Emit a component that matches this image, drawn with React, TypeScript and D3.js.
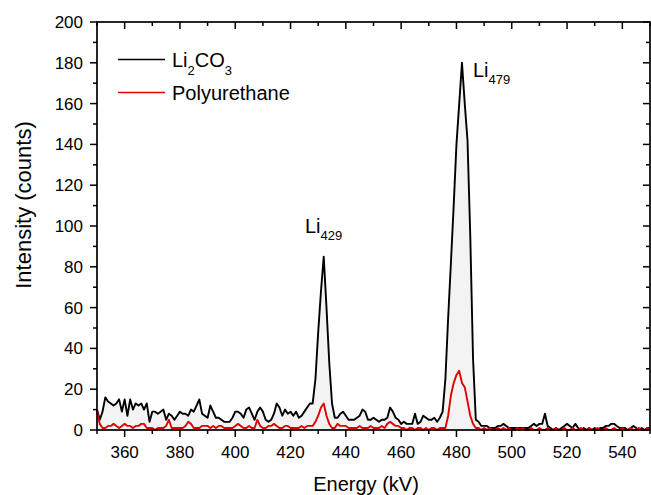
import { useEffect, useRef } from 'react';
import * as d3 from 'd3';

// energy grid (kV), one sample per kV
const energies = d3.range(350, 551, 1);

// Li2CO3 counts, 350..550 kV
const li2co3 = [
  10, 5, 9, 16, 14, 13, 12, 13, 15, 9,
  15, 7, 15, 10, 13, 12, 13, 10, 13, 4,
  9, 9, 8, 9, 10, 5, 8, 7, 5, 7,
  9, 8, 8, 7, 10, 9, 12, 15, 8, 7,
  6, 12, 9, 6, 6, 5, 4, 4, 4, 6,
  9, 9, 8, 6, 10, 11, 8, 5, 9, 11,
  9, 5, 4, 5, 8, 13, 11, 7, 10, 8,
  9, 7, 9, 6, 7, 9, 11, 13, 13, 25,
  48, 68, 85, 60, 33, 13, 6, 6, 8, 9,
  7, 5, 5, 5, 6, 7, 10, 9, 5, 5,
  6, 5, 4, 5, 5, 6, 11, 9, 6, 5,
  3, 4, 3, 3, 3, 8, 3, 4, 7, 6,
  5, 5, 6, 4, 6, 9, 25, 55, 82, 110,
  140, 160, 180, 160, 142, 95, 35, 5, 4, 2,
  2, 2, 1, 1, 1, 2, 2, 3, 2, 1,
  1, 1, 1, 1, 1, 1, 1, 2, 3, 2,
  3, 3, 8, 2, 1, 0, 1, 0, 1, 2,
  3, 2, 1, 3, 1, 0, 1, 0, 1, 0,
  1, 0, 1, 1, 2, 2, 3, 3, 2, 1,
  1, 1, 0, 1, 2, 1, 0, 1, 0, 1,
  1,
];

// Polyurethane counts, 350..550 kV
const polyurethane = [
  9, 3, 1, 1, 2, 2, 3, 2, 1, 2,
  3, 2, 2, 1, 2, 2, 3, 3, 1, 1,
  1, 0, 1, 1, 1, 2, 5, 1, 1, 1,
  1, 1, 2, 4, 3, 1, 1, 1, 2, 2,
  2, 1, 2, 1, 2, 2, 1, 1, 1, 1,
  2, 3, 2, 1, 1, 2, 1, 1, 5, 2,
  1, 1, 2, 2, 3, 2, 1, 1, 2, 2,
  1, 1, 1, 1, 2, 1, 2, 2, 2, 4,
  7, 11, 13, 7, 3, 1, 1, 3, 2, 2,
  2, 1, 1, 1, 1, 2, 1, 1, 1, 2,
  1, 1, 1, 2, 1, 3, 4, 3, 2, 2,
  1, 1, 0, 1, 1, 0, 1, 1, 0, 1,
  0, 1, 1, 0, 1, 1, 1, 7, 17, 23,
  27, 29, 23, 21, 14, 7, 3, 1, 1, 0,
  1, 0, 1, 0, 0, 1, 0, 1, 0, 1,
  0, 0, 1, 0, 1, 0, 0, 1, 0, 0,
  1, 0, 0, 1, 0, 0, 1, 0, 0, 1,
  0, 0, 1, 0, 0, 1, 0, 0, 1, 0,
  0, 1, 0, 0, 1, 0, 0, 1, 0, 0,
  1, 0, 0, 1, 0, 0, 1, 0, 0, 1,
  0,
];

const xMajor = [360, 380, 400, 420, 440, 460, 480, 500, 520, 540];
const yMajor = [0, 20, 40, 60, 80, 100, 120, 140, 160, 180, 200];

const W = 651;
const H = 495;
const M = { left: 97, right: 650, top: 22, bottom: 430 };
const FONT = 'Arial, "Liberation Sans", sans-serif';

export default function App() {
  const ref = useRef<SVGSVGElement>(null);

  useEffect(() => {
    const svg = d3.select(ref.current);
    svg.selectAll('*').remove();

    const x = d3.scaleLinear().domain([350, 550]).range([M.left, M.right]);
    const y = d3.scaleLinear().domain([0, 200]).range([M.bottom, M.top]);

    const black = energies.map((e, i) => [e, li2co3[i]] as [number, number]);
    const red = energies.map((e, i) => [e, polyurethane[i]] as [number, number]);

    const area = d3.area<[number, number]>()
      .x(d => x(d[0]))
      .y0(y(0))
      .y1(d => y(d[1]));
    const line = d3.line<[number, number]>()
      .x(d => x(d[0]))
      .y(d => y(d[1]));

    svg.append('path').attr('d', area(black)).attr('fill', '#f3f3f3');
    svg.append('path').attr('d', line(black))
      .attr('fill', 'none').attr('stroke', '#000').attr('stroke-width', 1.9)
      .attr('stroke-linejoin', 'round');
    svg.append('path').attr('d', line(red))
      .attr('fill', 'none').attr('stroke', '#e00000').attr('stroke-width', 1.9)
      .attr('stroke-linejoin', 'round');

    // frame
    svg.append('rect')
      .attr('x', M.left).attr('y', M.top)
      .attr('width', M.right - M.left).attr('height', M.bottom - M.top)
      .attr('fill', 'none').attr('stroke', '#000').attr('stroke-width', 1.7);

    const ticks = svg.append('g').attr('stroke', '#000').attr('stroke-width', 1.5);
    const xAll = d3.range(350, 551, 10);
    xAll.forEach(v => {
      const len = v % 20 === 0 ? 7 : 4;
      const px = x(v);
      ticks.append('line').attr('x1', px).attr('x2', px).attr('y1', M.bottom).attr('y2', M.bottom + len);
      ticks.append('line').attr('x1', px).attr('x2', px).attr('y1', M.top).attr('y2', M.top + len);
    });
    const yAll = d3.range(0, 201, 10);
    yAll.forEach(v => {
      const len = v % 20 === 0 ? 7 : 4;
      const py = y(v);
      ticks.append('line').attr('x1', M.left - len).attr('x2', M.left).attr('y1', py).attr('y2', py);
      ticks.append('line').attr('x1', M.right - len).attr('x2', M.right).attr('y1', py).attr('y2', py);
    });

    const lab = svg.append('g').attr('font-family', FONT).attr('font-size', 17).attr('fill', '#000');
    xMajor.forEach(v => {
      lab.append('text').attr('x', x(v)).attr('y', 458).attr('text-anchor', 'middle').text(v);
    });
    yMajor.forEach(v => {
      lab.append('text').attr('x', 83).attr('y', y(v) + 6).attr('text-anchor', 'end').text(v);
    });

    svg.append('text')
      .attr('x', 366).attr('y', 491)
      .attr('text-anchor', 'middle').attr('font-family', FONT).attr('font-size', 20)
      .text('Energy (kV)');
    svg.append('text')
      .attr('transform', 'translate(31,205) rotate(-90)')
      .attr('text-anchor', 'middle').attr('font-family', FONT).attr('font-size', 22)
      .text('Intensity (counts)');

    // legend
    const leg = svg.append('g').attr('font-family', FONT).attr('font-size', 20);
    leg.append('line').attr('x1', 118).attr('x2', 165).attr('y1', 59.5).attr('y2', 59.5)
      .attr('stroke', '#000').attr('stroke-width', 1.5);
    const t1 = leg.append('text').attr('x', 172).attr('y', 66.5);
    t1.append('tspan').text('Li');
    t1.append('tspan').attr('font-size', 13).attr('dy', 8).text('2');
    t1.append('tspan').attr('dy', -8).text('CO');
    t1.append('tspan').attr('font-size', 13).attr('dy', 8).text('3');
    leg.append('line').attr('x1', 118).attr('x2', 165).attr('y1', 92.5).attr('y2', 92.5)
      .attr('stroke', '#e00000').attr('stroke-width', 1.5);
    leg.append('text').attr('x', 172).attr('y', 100).text('Polyurethane');

    // peak labels
    const peak = (px: number, py: number, sub: string) => {
      const t = svg.append('text').attr('x', px).attr('y', py)
        .attr('font-family', FONT).attr('font-size', 20);
      t.append('tspan').text('Li');
      t.append('tspan').attr('font-size', 13).attr('dy', 7).text(sub);
    };
    peak(305, 233, '429');
    peak(473, 77, '479');
  }, []);

  return (
    <svg ref={ref} width={W} height={H}
      style={{ position: 'absolute', left: 0, top: 0, background: '#fff' }} />
  );
}
